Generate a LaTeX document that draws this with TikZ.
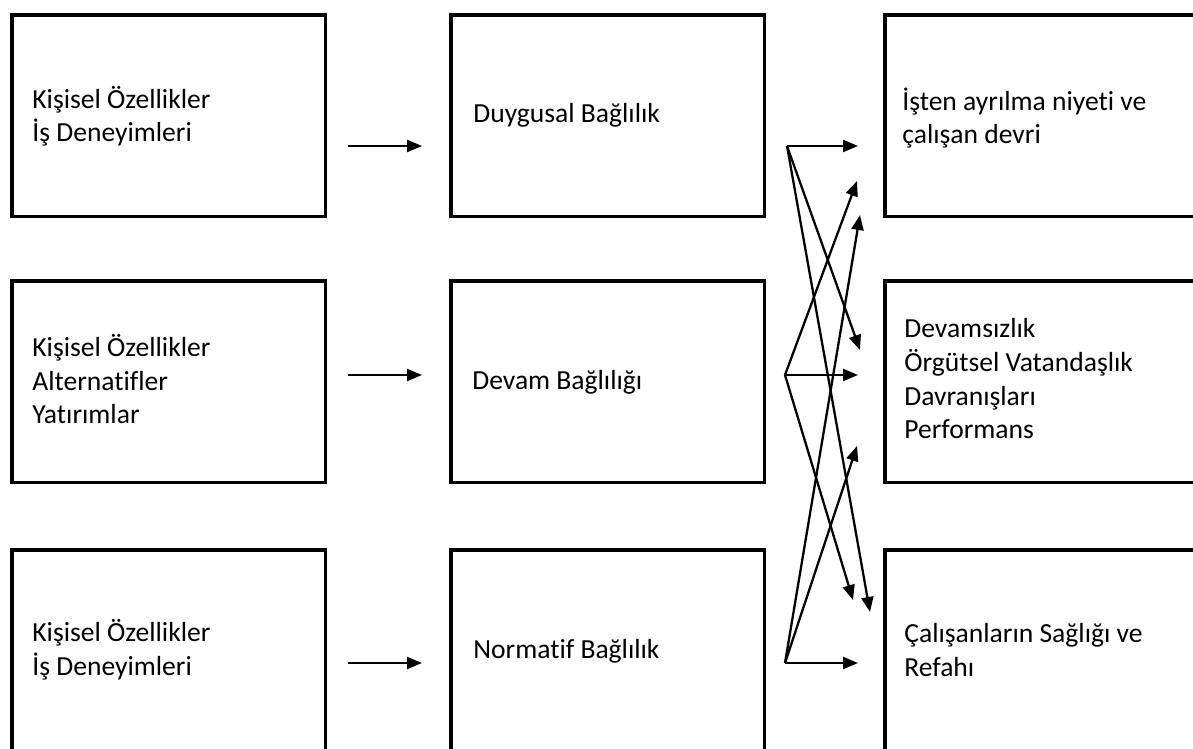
\documentclass[tikz,border=0pt]{standalone}
\usepackage{fontspec}
\setmainfont{Carlito}[Ligatures={NoCommon,NoRequired,NoContextual}]
\usetikzlibrary{arrows.meta}

\tikzset{
	kutu/.style={draw, line width=2pt, inner sep=0pt, anchor=north west,
		minimum width=6.28cm, minimum height=4.04cm},
	sagkutu/.style={kutu, minimum width=6.9cm},
	yazi/.style={inner sep=0pt, anchor=base west, align=left,
		font=\fontsize{15.7}{19.3}\selectfont},
	ok/.style={-{Triangle[length=0.3cm,width=0.24cm]}, line width=1.3pt}
}

\begin{document}
\begin{tikzpicture}[x=0.02cm,y=-0.02cm]

			\useasboundingbox (0,0) rectangle (1193,749);

			\node[kutu] (kisisel1) at (10,13) {};
			\node[kutu] (kisisel2) at (10,279) {};
			\node[kutu] (kisisel3) at (10,548) {};

			\node[kutu] (duygusal) at (449,13) {};
			\node[kutu] (devam) at (449,279) {};
			\node[kutu] (normatif) at (449,548) {};

			\node[sagkutu] (ayrilma) at (883,13) {};
			\node[sagkutu] (devamsizlik) at (883,279) {};
			\node[sagkutu] (saglik) at (883,548) {};

			\node[yazi] (kisisel1yazi) at (32,142) {Kişisel Özellikler\\İş Deneyimleri};
			\node[yazi] (kisisel2yazi) at (32,424) {Kişisel Özellikler\\Alternatifler\\Yatırımlar};
			\node[yazi] (kisisel3yazi) at (32,675) {Kişisel Özellikler\\İş Deneyimleri};

			\node[yazi] (duygusalyazi) at (473,123) {Duygusal Bağlılık};
			\node[yazi] (devamyazi) at (472,390) {Devam Bağlılığı};
			\node[yazi] (normatifyazi) at (473,658) {Normatif Bağlılık};

			\node[yazi] (ayrilmayazi) at (902,144) {İşten ayrılma niyeti ve\\çalışan devri};
			\node[yazi] (devamsizlikyazi) at (904,439) {Devamsızlık\\Örgütsel Vatandaşlık\\Davranışları\\Performans};
			\node[yazi] (saglikyazi) at (904,676) {Çalışanların Sağlığı ve\\Refahı};

			\coordinate (a1) at (348,146);
			\coordinate (b1) at (422,146);
			\coordinate (a2) at (348,375);
			\coordinate (b2) at (422,375);
			\coordinate (a3) at (348,663);
			\coordinate (b3) at (422,663);

			\draw[ok] (a1) -- (b1);
			\draw[ok] (a2) -- (b2);
			\draw[ok] (a3) -- (b3);

			\coordinate (c1) at (787,146);
			\coordinate (c2) at (785,375);
			\coordinate (c3) at (785,663);

			\coordinate (u11) at (858,146);
			\coordinate (u12) at (860,350);
			\coordinate (u13) at (870,612);
			\coordinate (u21) at (857,181);
			\coordinate (u22) at (858,375);
			\coordinate (u23) at (853,600);
			\coordinate (u31) at (860,215);
			\coordinate (u32) at (857,446);
			\coordinate (u33) at (858,663);

			\foreach \i in {1,2,3}{
				\foreach \j in {1,2,3}{
					\draw[ok] (c\i) -- (u\i\j);
				}
			}

\end{tikzpicture}
\end{document}
